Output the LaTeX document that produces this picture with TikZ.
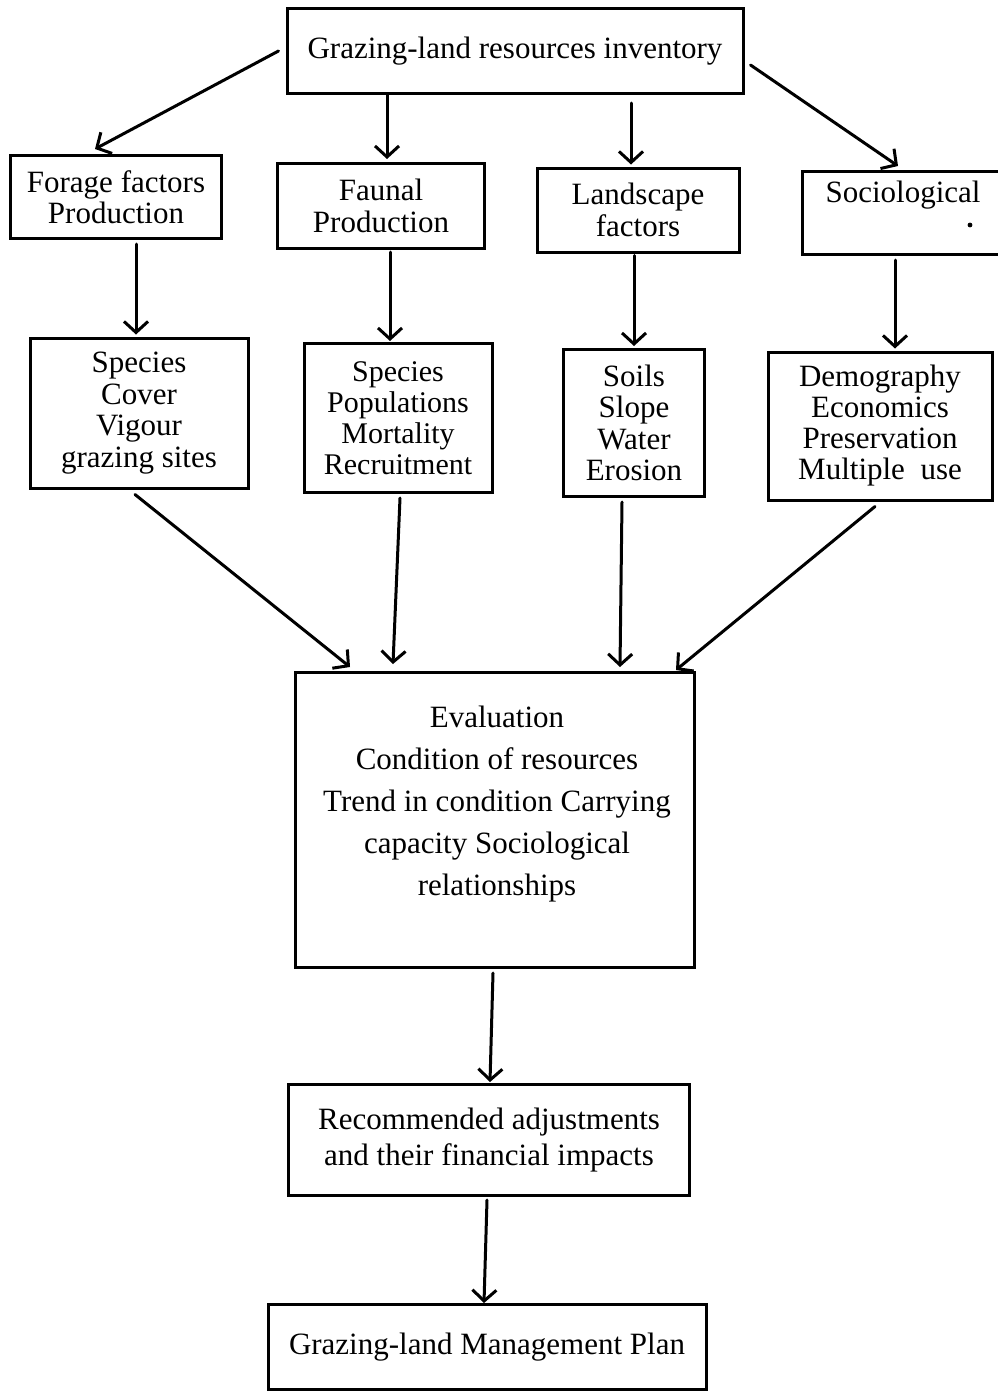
\documentclass[tikz,border=0pt]{standalone}
\usepackage{fontspec}
\setmainfont{Liberation Serif}
\usetikzlibrary{arrows.meta}
\begin{document}
\begin{tikzpicture}[x=1pt,y=-1pt,
  box/.style={draw,line width=3pt,inner sep=0pt,align=center},
  txt/.style={inner sep=0pt,align=center,font=\fontsize{31}{31.5}\selectfont},
  arr/.style={line width=3pt,line cap=round,-{Straight Barb[length=11pt,width=24pt,line width=3pt]}}]
\useasboundingbox[fill=white] (0,0) rectangle (998,1392);
% boxes
\node[box,minimum width=456pt,minimum height=85pt,font=\fontsize{31}{31.5}\selectfont] (top) at (515,51) {Grazing-land resources inventory};
\node[box,minimum width=211pt,minimum height=83pt,font=\fontsize{31}{31.5}\selectfont] (forage) at (116,197) {Forage factors\\Production};
\node[box,minimum width=207pt,minimum height=85pt,font=\fontsize{31}{31.5}\selectfont] (faunal) at (381,206) {Faunal\\Production};
\node[box,minimum width=202pt,minimum height=84pt,font=\fontsize{31}{31.5}\selectfont] (land) at (638,210) {Landscape\\factors};
\node[box,minimum width=208pt,minimum height=83pt] (soc) at (906,213) {};
\node[txt] (soctxt) at (903,195) {Sociological};
\fill (970,225) circle (2.4pt);
\node[box,minimum width=218pt,minimum height=150pt,font=\fontsize{31}{31.5}\selectfont] (species) at (139,413) {Species\\Cover\\Vigour\\grazing sites};
\node[box,minimum width=188pt,minimum height=149pt,font=\fontsize{30}{31}\selectfont] (pop) at (398,418) {Species\\Populations\\Mortality\\Recruitment};
\node[box,minimum width=141pt,minimum height=147pt,font=\fontsize{31}{31.5}\selectfont] (soils) at (634,423) {Soils\\Slope\\Water\\Erosion};
\node[box,minimum width=224pt,minimum height=148pt,font=\fontsize{31}{31}\selectfont] (demo) at (880,426) {Demography\\Economics\\Preservation\\Multiple\ \ use};
\node[box,minimum width=399pt,minimum height=295pt] (eval) at (495,820) {};
\node[txt,font=\fontsize{31}{42}\selectfont] (evaltxt) at (497,804) {Evaluation\\Condition of resources\\Trend in condition Carrying\\capacity Sociological\\relationships};
\node[box,minimum width=401pt,minimum height=111pt,font=\fontsize{31}{36}\selectfont] (rec) at (489,1140) {Recommended adjustments\\and their financial impacts};
\node[box,minimum width=438pt,minimum height=85pt,font=\fontsize{31}{32}\selectfont] (plan) at (487,1347) {Grazing-land Management Plan};
% connectors
\draw[arr] ([xshift=-7pt]top.west) -- ([xshift=-21pt,yshift=5pt]forage.north);
\draw[arr] ([xshift=-128pt]top.south) -- ([xshift=6pt,yshift=3pt]faunal.north);
\draw[arr] ([xshift=116pt,yshift=-8pt]top.south) -- ([xshift=-7pt,yshift=2pt]land.north);
\draw[arr] ([xshift=6pt,yshift=-14pt]top.east) -- ([xshift=-8pt,yshift=4pt]soc.north);
\draw[arr] ([xshift=20pt,yshift=-4pt]forage.south) -- ([xshift=-3pt,yshift=2pt]species.north);
\draw[arr] ([xshift=9pt,yshift=-2pt]faunal.south) -- ([xshift=-8pt,yshift=1pt]pop.north);
\draw[arr] ([xshift=-4pt,yshift=-2pt]land.south) -- ([yshift=2pt]soils.north);
\draw[arr] ([xshift=-11pt,yshift=-4pt]soc.south) -- ([xshift=15pt,yshift=2pt]demo.north);
\draw[arr] ([xshift=-4pt,yshift=-5pt]species.south) -- ([xshift=-145pt,yshift=4pt]eval.north);
\draw[arr] ([xshift=2pt,yshift=-4pt]pop.south) -- ([xshift=-102pt,yshift=7pt]eval.north);
\draw[arr] ([xshift=-12pt,yshift=-4pt]soils.south) -- ([xshift=125pt,yshift=4pt]eval.north);
\draw[arr] ([xshift=-5pt,yshift=-5pt]demo.south) -- ([xshift=181pt,yshift=1pt]eval.north);
\draw[arr] ([xshift=-2pt,yshift=-4pt]eval.south) -- ([xshift=1pt,yshift=1pt]rec.north);
\draw[arr] ([xshift=-2pt,yshift=-3pt]rec.south) -- ([xshift=-3pt]plan.north);
\end{tikzpicture}
\end{document}
